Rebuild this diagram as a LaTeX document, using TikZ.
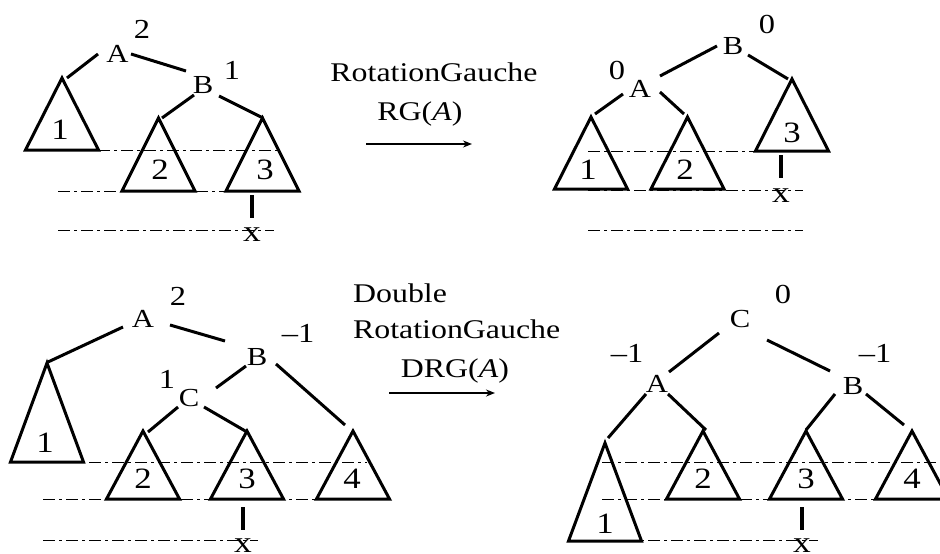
\documentclass[tikz,border=0pt]{standalone}
\usepackage{fontspec}
\setmainfont[FakeStretch=1.18]{Liberation Serif}
\usetikzlibrary{arrows.meta}
\tikzset{
  tri/.style={line width=3pt, line join=miter},
  edge/.style={line width=3pt},
  guide/.style={line width=1pt, dash pattern=on 12pt off 4pt on 3pt off 4pt},
  xbar/.style={line width=3.5pt},
  captxt/.style={font=\fontsize{27}{32}\selectfont, inner sep=0pt, anchor=base},
  captxtw/.style={font=\fontsize{27}{32}\selectfont, inner sep=0pt, anchor=base west},
  digit/.style={font=\fontsize{27.5}{32}\selectfont, inner sep=0pt, anchor=base},
  tdigit/.style={font=\fontsize{29.5}{32}\selectfont, inner sep=0pt, anchor=base},
  lab/.style={font=\fontsize{26}{30}\selectfont, inner sep=0pt, anchor=base},
  xlab/.style={font=\fontsize{30}{32}\selectfont, inner sep=0pt, anchor=base},
  arr/.style={line width=1.5pt, -{Stealth[length=9pt,width=7pt]}}
}
% name, apex x, apex y, base y
\newcommand{\subtri}[4]{%
  \coordinate (#1) at (#2,#3);
  \draw[tri] (#1) -- ++(-36.5,#4-#3) -- ++(73,0) -- cycle;}
% name, start, end
\newcommand{\conn}[3]{%
  \coordinate (#1s) at (#2);
  \coordinate (#1e) at (#3);
  \draw[edge] (#1s) -- (#1e);}
\newcommand{\guideline}[4]{%
  \coordinate (#1s) at (#2,#4);
  \coordinate (#1e) at (#3,#4);
  \draw[guide] (#1s) -- (#1e);}
\newcommand{\xline}[4]{%
  \coordinate (#1s) at (#2,#3);
  \coordinate (#1e) at (#2,#4);
  \draw[xbar] (#1s) -- (#1e);}
\begin{document}
\begin{tikzpicture}[x=1pt,y=-1pt]
\useasboundingbox (0,0) rectangle (940,554);
\fill[white] (0,0) rectangle (940,554);

% ---------- top left ----------
\guideline{tlg1}{98}{277}{150}
\guideline{tlg2}{58}{300}{191}
\guideline{tlg3}{58}{274}{230}
\subtri{tlT1}{62}{78}{150}
\subtri{tlT2}{158.5}{118}{191}
\subtri{tlT3}{262.5}{118}{191}
\node[lab] (tlA) at (117.5,62) {A};
\node[digit] (tlA2) at (142,38) {2};
\node[lab] (tlB) at (203,93) {B};
\node[digit] (tlB1) at (232,79) {1};
\node[tdigit] (tl1) at (60,139) {1};
\node[tdigit] (tl2) at (160,179) {2};
\node[tdigit] (tl3) at (265,179) {3};
\conn{tle1}{98,54}{67,78}
\conn{tle2}{131,54}{186,71}
\conn{tle3}{194,95}{162,118}
\conn{tle4}{219,96}{263,118}
\xline{tlx}{252}{195}{218}
\node[xlab] (tlxl) at (252,241) {x};

% ---------- top middle ----------
\node[captxt] (tc1) at (434,81) {RotationGauche};
\node[captxt] (tc2) at (420,120) {RG(\textit{A})};
\coordinate (tas) at (366,144);
\coordinate (tae) at (472,144);
\draw[arr] (tas) -- (tae);

% ---------- top right ----------
\guideline{trg1}{588}{755}{151}
\guideline{trg2}{588}{803}{190}
\guideline{trg3}{588}{803}{230}
\subtri{trT1}{591}{117}{189}
\subtri{trT2}{687.5}{117}{189}
\subtri{trT3}{792}{79}{151}
\node[lab] (trB) at (733,54) {B};
\node[digit] (trB0) at (767,33) {0};
\node[lab] (trA) at (640,97) {A};
\node[digit] (trA0) at (617,79) {0};
\node[tdigit] (tr1) at (588,179) {1};
\node[tdigit] (tr2) at (685,179) {2};
\node[tdigit] (tr3) at (792,142) {3};
\conn{tre1}{717,46}{660,76}
\conn{tre2}{748,55}{788,79}
\conn{tre3}{623,94}{595,114}
\conn{tre4}{660,92}{684,114}
\xline{trx}{781}{155}{178}
\node[xlab] (trxl) at (781,202) {x};

% ---------- bottom left ----------
\guideline{blg1}{43}{367}{462}
\guideline{blg2}{43}{317}{499}
\guideline{blg3}{43}{258}{540}
\subtri{blT1}{47}{363}{462}
\subtri{blT2}{143}{431}{499}
\subtri{blT3}{247}{431}{499}
\subtri{blT4}{353}{431}{499}
\node[lab] (blA) at (143,327) {A};
\node[digit] (blA2) at (178,305) {2};
\node[lab] (blB) at (257,365) {B};
\node[digit] (blBm) at (298,342) {\textendash 1};
\node[lab] (blC) at (189,406) {C};
\node[digit] (blC1) at (167,388) {1};
\node[tdigit] (bl1) at (45,452) {1};
\node[tdigit] (bl2) at (143,488) {2};
\node[tdigit] (bl3) at (247,488) {3};
\node[tdigit] (bl4) at (352,488) {4};
\conn{ble1}{123,327}{48,362}
\conn{ble2}{170,325}{225,341}
\conn{ble3}{246,366}{216,388}
\conn{ble4}{276,364}{345,425}
\conn{ble5}{178,407}{148,432}
\conn{ble6}{204,407}{247,432}
\xline{blx}{243}{507}{530}
\node[xlab] (blxl) at (243,552) {x};

% ---------- bottom middle ----------
\node[captxtw] (bc1) at (353,302) {Double};
\node[captxtw] (bc2) at (353,338) {RotationGauche};
\node[captxt] (bc3) at (455,377) {DRG(\textit{A})};
\coordinate (bas) at (389,393);
\coordinate (bae) at (495,393);
\draw[arr] (bas) -- (bae);

% ---------- bottom right ----------
\guideline{brg1}{602}{940}{462}
\guideline{brg2}{602}{876}{499}
\guideline{brg3}{602}{818}{540}
\subtri{brT1}{605}{443}{541}
\subtri{brT2}{703}{431}{499}
\subtri{brT3}{806}{431}{499}
\subtri{brT4}{912}{431}{499}
\node[lab] (brC) at (740,327) {C};
\node[digit] (brC0) at (783,303) {0};
\node[lab] (brA) at (657,392) {A};
\node[digit] (brAm) at (627,362) {\textendash 1};
\node[lab] (brB) at (853,394) {B};
\node[digit] (brBm) at (875,362) {\textendash 1};
\node[tdigit] (br1) at (605,533) {1};
\node[tdigit] (br2) at (703,488) {2};
\node[tdigit] (br3) at (806,488) {3};
\node[tdigit] (br4) at (912,488) {4};
\conn{bre1}{719,333}{669,372}
\conn{bre2}{767,340}{830,371}
\conn{bre3}{646,394}{608,438}
\conn{bre4}{668,394}{706,430}
\conn{bre5}{835,394}{806,430}
\conn{bre6}{866,394}{904,425}
\xline{brx}{802}{507}{530}
\node[xlab] (brxl) at (802,552) {x};
\end{tikzpicture}
\end{document}
